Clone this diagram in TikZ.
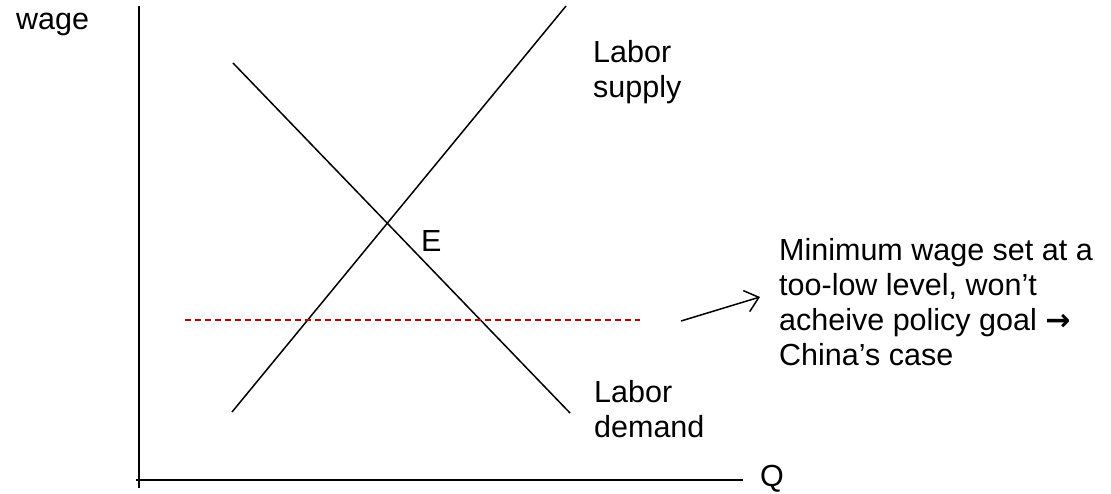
\documentclass[tikz,border=0pt]{standalone}
\usepackage{fontspec}
\setmainfont{Liberation Sans}
\usepackage{xcolor}
\usepackage{tikz}
\usetikzlibrary{arrows.meta}
\definecolor{minred}{RGB}{192,0,0}
\newfontfamily\arrowfont{DejaVu Sans}[BoldFont={DejaVu Sans Bold}]

\begin{document}
\begin{tikzpicture}[x=1pt,y=-1pt,
    lbl/.style={anchor=base west,inner sep=0pt,align=left,font=\fontsize{30.5pt}{35pt}\selectfont},
    curve/.style={line width=1.5pt},
    axis/.style={line width=2pt}]
    \useasboundingbox (0,0) rectangle (1111,493);
    % axes
    \coordinate (ytop) at (139,6);
    \coordinate (ybot) at (139,488);
    \coordinate (xleft) at (136,480);
    \coordinate (xright) at (743,480);
    \draw[axis] (ybot) -- (ytop);
    \draw[axis] (xleft) -- (xright);
    % supply and demand
    \coordinate (S1) at (232,412);
    \coordinate (S2) at (566,6);
    \coordinate (D1) at (233,63);
    \coordinate (D2) at (570,413);
    \draw[curve] (S1) -- (S2);
    \draw[curve] (D1) -- (D2);
    % minimum wage
    \coordinate (M1) at (185,320);
    \coordinate (M2) at (640,320);
    \draw[minred,line width=1.2pt,dash pattern=on 6pt off 4pt] (M1) -- (M2);
    \node[lbl] (wage) at (16,29) {wage};
    \node[lbl] (Q) at (760,486) {Q};
    \node[lbl] (E) at (421,251) {E};
    \node[lbl] (supply) at (593,97) {Labor\\supply};
    \node[lbl] (demand) at (594,437) {Labor\\demand};
    \node[lbl] (note) at (779,365) {Minimum wage set at a\\too-low level, won’t\\acheive policy goal {\arrowfont\bfseries\fontsize{30pt}{35pt}\selectfont →}\\China’s case};
    \coordinate (tail) at (681,321);
    \coordinate (tip) at (760,297);
    \draw[line width=1.5pt,-{Straight Barb[length=13pt,width=22pt]}] (tail) -- (tip);
\end{tikzpicture}
\end{document}
